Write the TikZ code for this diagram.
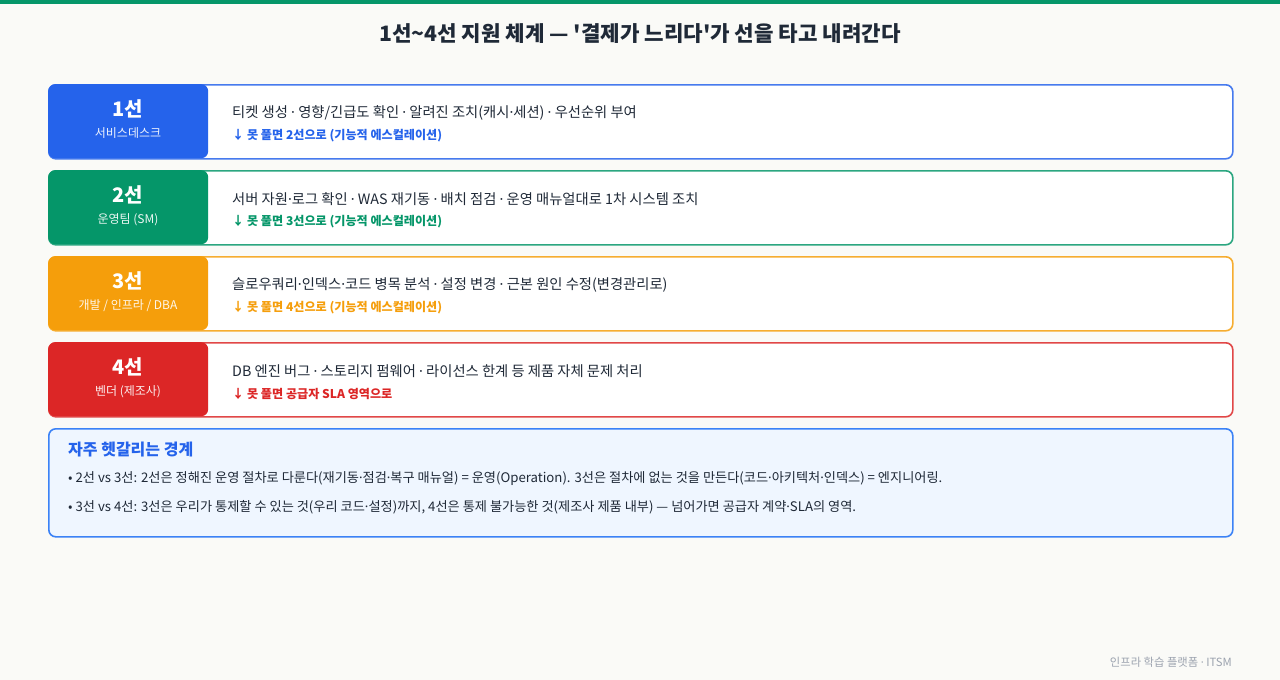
\documentclass[tikz,border=0pt]{standalone}
\usepackage{fontspec}
\setmainfont{Noto Sans CJK KR}
\newfontfamily\latinfont{Noto Sans}
\definecolor{pagebg}{HTML}{FAFAF7}
\definecolor{topbar}{HTML}{059669}
\definecolor{ink}{HTML}{1F2937}
\definecolor{tone1}{HTML}{2563EB}
\definecolor{tone2}{HTML}{059669}
\definecolor{tone3}{HTML}{F59E0B}
\definecolor{tone4}{HTML}{DC2626}
\definecolor{notebg}{HTML}{EFF6FF}
\definecolor{notedraw}{HTML}{3B82F6}
\definecolor{footgray}{HTML}{9CA3AF}
\newcommand{\fs}[1]{\fontsize{#1}{#1}\selectfont}
\newcommand{\md}{{\latinfont ·}}
\tikzset{
  card/.style={draw=#1!85!white, line width=1.6pt, rounded corners=7pt, fill=white,
    minimum width=1184pt, minimum height=74pt, anchor=north west, inner sep=0pt},
  tier/.style={fill=#1, rounded corners=7pt, minimum width=160pt, minimum height=74pt,
    anchor=north west, inner sep=0pt},
  tiername/.style={text=white, font=\fs{20}\bfseries, inner sep=0pt},
  tierrole/.style={text=white!92!#1, font=\fs{12}, inner sep=0pt},
  task/.style={text=ink, font=\fs{14.3}, anchor=west, inner sep=0pt},
  esc/.style={text=#1, font=\fs{12.1}\bfseries, anchor=west, inner sep=0pt},
  bullet/.style={text=ink, font=\fs{13.2}, anchor=west, inner sep=0pt}
}
\begin{document}
\begin{tikzpicture}[x=1pt, y=-1pt]
\useasboundingbox[fill=pagebg] (0,0) rectangle (1280,680);
\fill[topbar] (0,0) rectangle (1280,4);
\node[text=ink, font=\fs{21.2}\bfseries, inner sep=0pt] (title) at (640,34)
  {1선\textasciitilde4선 지원 체계 — \textquotesingle 결제가 느리다\textquotesingle 가 선을 타고 내려간다};

% 1선
\node[card=tone1] (card1) at (48,84) {};
\node[tier=tone1] (tier1) at (48,84) {};
\node[tiername] (name1) at (128,108.5) {1선};
\node[tierrole=tone1] (role1) at (128,133.5) {서비스데스크};
\node[task] (task1) at (232,113) {티켓 생성 \md{} 영향/긴급도 확인 \md{} 알려진 조치(캐시\md 세션) \md{} 우선순위 부여};
\node[esc=tone1] (esc1) at (232,136) {↓ 못 풀면 2선으로 (기능적 에스컬레이션)};

% 2선
\node[card=tone2] (card2) at (48,170) {};
\node[tier=tone2] (tier2) at (48,170) {};
\node[tiername] (name2) at (128,194.5) {2선};
\node[tierrole=tone2] (role2) at (128,219.5) {운영팀 (SM)};
\node[task] (task2) at (232,199) {서버 자원\md 로그 확인 \md{} WAS 재기동 \md{} 배치 점검 \md{} 운영 매뉴얼대로 1차 시스템 조치};
\node[esc=tone2] (esc2) at (232,222) {↓ 못 풀면 3선으로 (기능적 에스컬레이션)};

% 3선
\node[card=tone3] (card3) at (48,256) {};
\node[tier=tone3] (tier3) at (48,256) {};
\node[tiername] (name3) at (128,280.5) {3선};
\node[tierrole=tone3] (role3) at (128,305.5) {개발 / 인프라 / DBA};
\node[task] (task3) at (232,285) {슬로우쿼리\md 인덱스\md 코드 병목 분석 \md{} 설정 변경 \md{} 근본 원인 수정(변경관리로)};
\node[esc=tone3] (esc3) at (232,308) {↓ 못 풀면 4선으로 (기능적 에스컬레이션)};

% 4선
\node[card=tone4] (card4) at (48,342) {};
\node[tier=tone4] (tier4) at (48,342) {};
\node[tiername] (name4) at (128,366.5) {4선};
\node[tierrole=tone4] (role4) at (128,391.5) {벤더 (제조사)};
\node[task] (task4) at (232,371) {DB 엔진 버그 \md{} 스토리지 펌웨어 \md{} 라이선스 한계 등 제품 자체 문제 처리};
\node[esc=tone4] (esc4) at (232,394) {↓ 못 풀면 공급자 SLA 영역으로};

% 경계 메모
\node[draw=notedraw, line width=1.6pt, fill=notebg, rounded corners=7pt, minimum width=1184pt,
  minimum height=108pt, anchor=north west, inner sep=0pt] (note) at (48,428) {};
\node[text=tone1, font=\fs{16}\bfseries, anchor=west, inner sep=0pt] (notetitle) at (68,450) {자주 헷갈리는 경계};
\node[bullet] (line23) at (68,479) {• 2선 vs 3선: 2선은 정해진 운영 절차로 다룬다(재기동\md 점검\md 복구 매뉴얼) = 운영(Operation). 3선은 절차에 없는 것을 만든다(코드\md 아키텍처\md 인덱스) = 엔지니어링.};
\node[bullet] (line34) at (68,507) {• 3선 vs 4선: 3선은 우리가 통제할 수 있는 것(우리 코드\md 설정)까지, 4선은 통제 불가능한 것(제조사 제품 내부) — 넘어가면 공급자 계약\md SLA의 영역.};

\node[text=footgray, font=\fs{11.3}, anchor=east, inner sep=0pt] (footer) at (1232,662) {인프라 학습 플랫폼 \md{} ITSM};
\end{tikzpicture}
\end{document}
